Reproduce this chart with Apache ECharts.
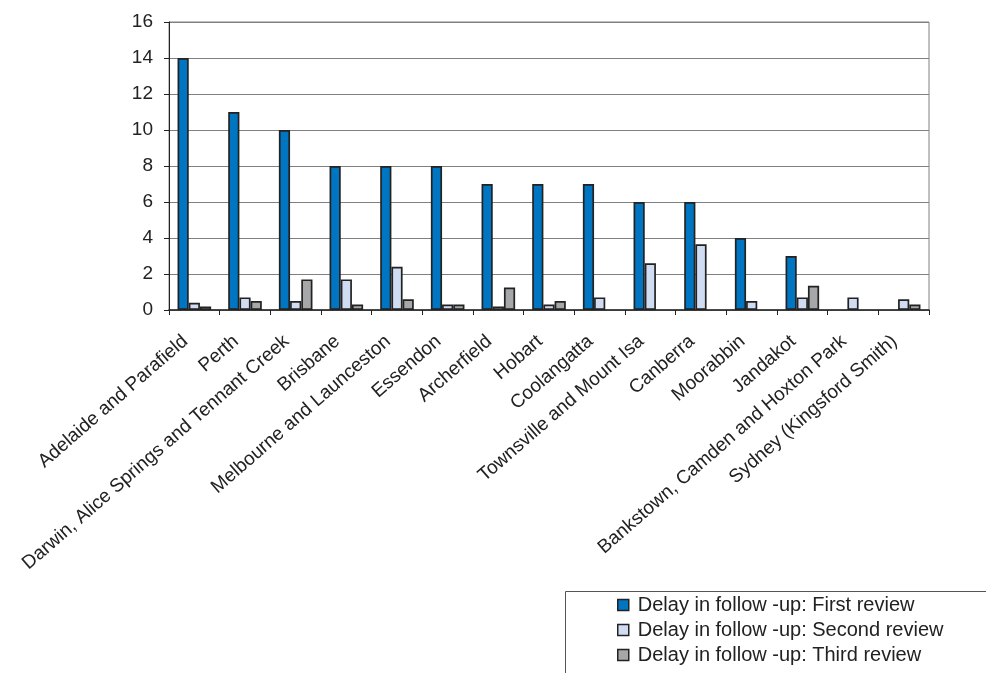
<!DOCTYPE html>
<html>
<head>
	<meta charset="utf-8">
	<title>Delay in follow-up</title>
	<script type="text/javascript" src="https://cdn.jsdelivr.net/npm/echarts@6/dist/echarts.min.js"></script>
	<style>
		html, body { margin: 0; padding: 0; background: #fff; }
	</style>
</head>
<body>
	<div id="main" style="width: 986px;height: 673px"></div>
	<script type="text/javascript">
	// 数据
	const categories = [
		'Adelaide and Parafield', 'Perth', 'Darwin, Alice Springs and Tennant Creek',
		'Brisbane', 'Melbourne and Launceston', 'Essendon', 'Archerfield', 'Hobart',
		'Coolangatta', 'Townsville and Mount Isa', 'Canberra', 'Moorabbin', 'Jandakot',
		'Bankstown, Camden and Hoxton Park', 'Sydney (Kingsford Smith)'
	];
	const firstReview  = [14, 11, 10, 8, 8, 8, 7, 7, 7, 6, 6, 4, 3, 0, 0];
	const secondReview = [0.4, 0.7, 0.5, 1.7, 2.4, 0.3, 0.2, 0.3, 0.7, 2.6, 3.65, 0.5, 0.7, 0.7, 0.6];
	const thirdReview  = [0.2, 0.5, 1.7, 0.3, 0.6, 0.3, 1.25, 0.5, 0, 0, 0, 0, 1.35, 0, 0.3];
	const seriesNames = [
		'Delay in follow -up: First review',
		'Delay in follow -up: Second review',
		'Delay in follow -up: Third review'
	];
	const colors = ['#0075c2', '#cfdcf2', '#a6a7a9'];

	const chart = echarts.init(document.getElementById('main'));
	const font = 'Liberation Sans, Arial, sans-serif';

	// 0 值不画柱子
	function clean(arr) {
		return arr.map(function (v) { return v === 0 ? '-' : v; });
	}

	const option = {
		backgroundColor: '#fff',
		animation: false,
		textStyle: { fontFamily: font },
		grid: {
			left: 169, right: 57, top: 22, bottom: 363,
			show: true,
			borderColor: '#808080',
			borderWidth: 1,
			containLabel: false,
			outerBoundsMode: 'none'
		},
		legend: {
			orient: 'vertical',
			left: 617,
			top: 595,
			height: 120,
			padding: 0,
			icon: 'rect',
			itemWidth: 11,
			itemHeight: 11,
			itemGap: 5,
			itemStyle: { borderColor: '#222', borderWidth: 1.5 },
			textStyle: { fontSize: 20, color: '#222', fontFamily: font, padding: [0, 0, 0, 4] },
			data: seriesNames
		},
		graphic: [{
			type: 'rect',
			shape: { x: 565.5, y: 591.5, width: 500, height: 200 },
			style: { fill: 'none', stroke: '#555', lineWidth: 1 },
			z: -1
		}],
		xAxis: {
			type: 'category',
			data: categories,
			axisLine: { lineStyle: { color: '#222', width: 1.5 } },
			axisTick: { show: true, length: 5, lineStyle: { color: '#222' } },
			axisLabel: {
				rotate: 41,
				interval: 0,
				fontSize: 19,
				color: '#222',
				margin: 21,
				padding: [0, 12, 0, 0]
			}
		},
		yAxis: {
			type: 'value',
			min: 0,
			max: 16,
			interval: 2,
			axisLine: { show: true, lineStyle: { color: '#222' } },
			axisTick: { show: true, length: 5, lineStyle: { color: '#222' } },
			axisLabel: { fontSize: 19, color: '#222', margin: 16 },
			splitLine: { lineStyle: { color: '#808080', width: 1 } }
		},
		series: [firstReview, secondReview, thirdReview].map(function (d, i) {
			return {
				name: seriesNames[i],
				type: 'bar',
				data: clean(d),
				barWidth: 11.2,
				barGap: '0%',
				itemStyle: {
					color: colors[i],
					borderColor: '#222',
					borderWidth: 1.7
				}
			};
		})
	};

	chart.setOption(option);
	</script>
</body>
</html>
